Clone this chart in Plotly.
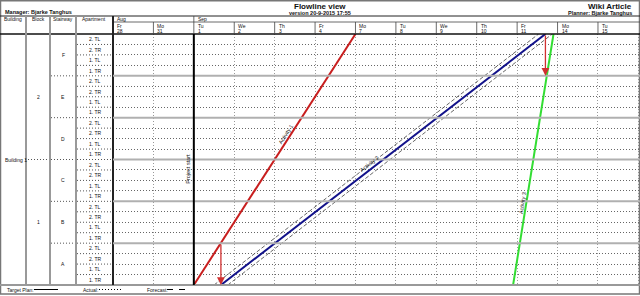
import plotly.graph_objects as go
import math

# ---------------- data ----------------
months = ["Aug", "Sep"]
month_start = [0, 2]
day_names = ["Fr", "Mo", "Tu", "We", "Th", "Fr", "Mo", "Tu", "We", "Th", "Fr", "Mo", "Tu"]
day_nums = ["28", "31", "1", "2", "3", "4", "7", "8", "9", "10", "11", "14", "15"]

buildings = ["Building 1"]
blocks = ["1", "2"]                       # bottom to top
stairways = ["A", "B", "C", "D", "E", "F"]  # bottom to top
apartments = ["1. TR", "1. TL", "2. TR", "2. TL"]  # bottom to top within a stairway

act_names = ["Activity 1", "Activity 2", "Activity 3"]
act_start = [2.0, 2.67, 9.9]     # working-day index at bottom row
act_end = [6.0, 10.7, 10.9]      # working-day index at top row
act_colors = ["#c81e1e", "#12128a", "#33dd33"]
act_label_row = [14.2, 11.2, 7.8]
project_start = 2.0

# ---------------- geometry (pixels) ----------------
W, H = 640, 296
X0 = 113          # chart left
Y_TOP, Y_BOT = 34, 285
N_ROWS = len(stairways) * len(apartments)
N_DAYS = 13.04


def PX(px):
    return px / W


def PY(py):
    return 1 - py / H


fig = go.Figure()
FONT = "Liberation Sans, Arial, sans-serif"

# activity 2 forecast band
off = 0.17
for s in (-1, 1):
    fig.add_trace(go.Scatter(x=[act_start[1] + s * off, act_end[1] + s * off], y=[0, N_ROWS],
                             mode="lines", line=dict(color="#555555", width=0.9, dash="4px,2px"),
                             hoverinfo="skip", showlegend=False))
for i in range(3):
    fig.add_trace(go.Scatter(x=[act_start[i], act_end[i]], y=[0, N_ROWS], mode="lines",
                             line=dict(color=act_colors[i], width=2), showlegend=False,
                             name=act_names[i]))

shapes = []
ann = []
DOT = "1px,2px"


def line(x0, y0, x1, y1, color="#000", width=1, dash="solid", xref="paper", yref="paper"):
    shapes.append(dict(type="line", x0=x0, y0=y0, x1=x1, y1=y1, xref=xref, yref=yref,
                       line=dict(color=color, width=width, dash=dash), layer="above"))


def text(x, y, t, size=5, xref="paper", yref="paper", xanchor="center", yanchor="middle",
         bold=False, **kw):
    ann.append(dict(x=x, y=y, xref=xref, yref=yref, text=(f"<b>{t}</b>" if bold else t),
                    showarrow=False, xanchor=xanchor, yanchor=yanchor,
                    font=dict(size=size, color="#111", family=FONT), **kw))


# outer frame and title area
shapes.append(dict(type="rect", x0=PX(0.5), y0=PY(294), x1=PX(639.5), y1=PY(0.8), xref="paper",
                   yref="paper", line=dict(color="#777", width=1.5), layer="above"))
line(0, PY(16), 1, PY(16), "#222", 1)
line(0, PY(Y_TOP), 1, PY(Y_TOP), "#111", 1.5)
line(0, PY(Y_BOT), 1, PY(Y_BOT), "#999", 2)
line(PX(X0), PY(22), 1, PY(22), "#444", 0.8)

# table column lines
for cx in (26, 50, 76):
    line(PX(cx), PY(16), PX(cx), PY(Y_BOT), "#999", 2)
line(PX(X0), PY(16), PX(X0), PY(Y_BOT), "#222", 2)

# title texts
text(PX(320), PY(6), "Flowline view", 8, bold=True)
text(PX(320), PY(13), "version 20-9-2015 17:55", 5.5, bold=True)
text(PX(634), PY(6), "Wiki Article", 8, bold=True, xanchor="right")
text(PX(634), PY(13), "Planner: Bjarke Tanghus", 5.5, bold=True, xanchor="right")
text(PX(3), PY(12), "Manager: Bjarke Tanghus", 5.5, bold=True, xanchor="left")

# column headers
for lbl, cx in zip(["Building", "Block", "Stairway", "Apartment"], [13, 38, 63, 94]):
    text(PX(cx), PY(19), lbl, 5)

# month and day headers
for m, k in zip(months, month_start):
    text(k, PY(19), m, 5, xref="x", xanchor="left", xshift=2)
    if k > 0:
        line(k, PY(16), k, PY(22), "#444", 0.8, xref="x")
for k, (dn, dd) in enumerate(zip(day_names, day_nums)):
    text(k, PY(25.5), dn, 5, xref="x", xanchor="left", xshift=2)
    text(k, PY(31), dd, 5, xref="x", xanchor="left", xshift=2)
    if k > 0:
        line(k, PY(22), k, PY(Y_TOP), "#444", 0.8, xref="x")

# row labels and separators
n_ap = len(apartments)
for si, st in enumerate(stairways):
    base = si * n_ap
    text(PX(63), base + n_ap / 2, st, 5, yref="y")
    for ai, ap in enumerate(apartments):
        text(PX(95), base + ai + 0.5, ap, 5, yref="y")
rows_per_block = N_ROWS // len(blocks)
for bi, b in enumerate(blocks):
    text(PX(38), bi * rows_per_block + rows_per_block / 2, b, 5, yref="y")
text(PX(3), N_ROWS / 2, buildings[0], 5, yref="y", xanchor="left")

for r in range(1, N_ROWS):
    line(PX(77), r, PX(112), r, "#555", 1, DOT, yref="y")
    if r % n_ap == 0:
        line(PX(51), r, PX(75), r, "#555", 1, DOT, yref="y")
        line(0, r, N_DAYS, r, "#b0b0b0", 2, xref="x", yref="y")
    if r % rows_per_block == 0:
        line(PX(25), r, PX(49), r, "#555", 1, DOT, yref="y")

# project start
line(project_start, 0, project_start, N_ROWS, "#000", 2, xref="x", yref="y")
text(project_start, N_ROWS / 2 - 0.9, "Project start", 5.5, xref="x", yref="y", textangle=-90,
     xshift=-6)

# activity labels along lines
day_px = (W - X0) / N_DAYS
row_px = (Y_BOT - Y_TOP) / N_ROWS
for i in range(3):
    r = act_label_row[i]
    x = act_start[i] + (act_end[i] - act_start[i]) * r / N_ROWS
    dxp = (act_end[i] - act_start[i]) * day_px
    dyp = N_ROWS * row_px
    ang = math.degrees(math.atan2(dyp, dxp))
    nx, ny = -math.sin(math.radians(ang)), math.cos(math.radians(ang))
    d = 5.5 if i == 1 else 4
    text(x, r, act_names[i], 5.5, xref="x", yref="y", textangle=-ang, xshift=nx * d,
         yshift=ny * d)

# dependency arrows
arrow_col = "#d03030"
ann.append(dict(x=act_start[1], y=0, ax=act_start[1], ay=n_ap, xref="x", yref="y", axref="x",
                ayref="y", text="", showarrow=True, arrowhead=2, arrowsize=1.2, arrowwidth=1.3,
                arrowcolor=arrow_col))
ann.append(dict(x=act_end[1], y=N_ROWS - n_ap, ax=act_end[1], ay=N_ROWS, xref="x", yref="y",
                axref="x", ayref="y", text="", showarrow=True, arrowhead=2, arrowsize=1.2,
                arrowwidth=1.3, arrowcolor=arrow_col))

# footer legend
FY = PY(289.5)
text(PX(5), FY, "Target Plan:", 5, xanchor="left")
line(PX(34), FY, PX(58), FY, "#000", 1)
text(PX(81), FY, "Actual:", 5, xanchor="left")
line(PX(99), FY, PX(121), FY, "#000", 1, DOT)
text(PX(145), FY, "Forecast:", 5, xanchor="left")
line(PX(167), FY, PX(191), FY, "#000", 1, "6px,6px")

fig.update_layout(
    width=W, height=H, margin=dict(l=0, r=0, t=0, b=0),
    paper_bgcolor="white", plot_bgcolor="white",
    xaxis=dict(domain=[PX(X0), 1], range=[0, N_DAYS], tick0=0, dtick=1, showgrid=True,
               gridcolor="#999", griddash=DOT, gridwidth=1, showticklabels=False,
               zeroline=False, ticks="", fixedrange=True),
    yaxis=dict(domain=[PY(Y_BOT), PY(Y_TOP)], range=[0, N_ROWS], tick0=0, dtick=1, showgrid=True,
               gridcolor="#666", griddash=DOT, gridwidth=1, showticklabels=False,
               zeroline=False, ticks="", fixedrange=True),
    shapes=shapes, annotations=ann, showlegend=False,
)
fig.write_html("out.html")
